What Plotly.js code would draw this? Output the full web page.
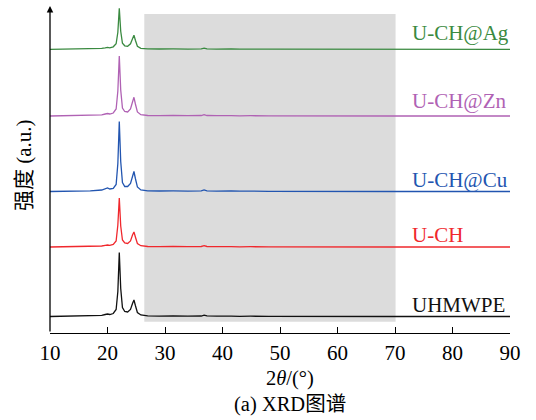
<!DOCTYPE html>
<html><head><meta charset="utf-8">
<script src="https://cdn.plot.ly/plotly-3.0.1.min.js"></script>
<style>html,body{margin:0;padding:0;background:#fff}#c{width:536px;height:420px}</style>
</head><body><div id="c"></div>
<script>
var twoTheta = [10,14,17,19,19.6,20.0,20.4,21.0,21.5,21.8,22.05,22.3,22.6,23.0,23.5,24.0,24.35,24.6,24.85,25.2,25.8,27,29,30.4,30.9,31.4,34,36.3,36.8,37.3,39,40.7,41.1,41.5,43,44.1,44.5,44.9,48,52,56,60,65,70,75,80,85,90];
var uhmwpe = [16.5,16.7,17,17.7,18.5,19,18.5,19.5,23.5,41.5,80.5,44.5,25.5,21.5,21,23.5,29.5,33,27.5,20.5,18,17.1,16.9,17,17.6,17,16.8,17,17.9,17.1,16.8,16.9,17.5,16.9,16.7,16.8,17.2,16.8,16.6,16.7,16.6,16.6,16.5,16.5,16.5,16.5,16.5,16.5];
var uch = [86,86.2,86.5,87,87.6,88,87.6,88.5,92,108,135,107,93,90,89.5,92,98,101,96,89.5,87.3,86.5,86.4,86.5,87.1,86.5,86.3,86.5,87.3,86.5,86.3,86.4,86.9,86.4,86.2,86.3,86.7,86.3,86.1,86.2,86.1,86.1,86,86,86,86,86,86];
var uchCu = [141.5,141.8,142.1,143,144,145,144,144.5,148.5,169.5,211.5,171.5,150.5,146.5,146.5,149.5,156.5,161.5,154.5,146,143,142.1,142,142.1,142.7,142.1,141.9,142.1,143,142.1,141.9,142,142.6,142,141.8,141.9,142.4,141.9,141.7,141.8,141.7,141.6,141.6,141.5,141.5,141.5,141.5,141.5];
var uchZn = [217,217.2,217.5,218.2,219,219.5,219,220,224,242,277,243,225,221.5,221,224,231,235.7,229,221,218.3,217.5,217.4,217.5,218.1,217.5,217.3,217.5,218.4,217.5,217.3,217.4,218,217.4,217.2,217.3,217.8,217.3,217.1,217.2,217.1,217.1,217,217,217,217,217,217];
var uchAg = [283.7,283.9,284.1,284.7,285.2,285.7,285.2,286.2,289.2,300.7,324.7,301.7,289.7,287.2,286.7,289.2,294.2,297.7,292.7,286.7,284.7,284.1,284,284.1,284.7,284.1,283.9,284.1,284.9,284.1,283.9,284,284.6,284,283.8,283.9,284.4,283.9,283.8,283.8,283.8,283.7,283.7,283.7,283.7,283.7,283.7,283.7];
var seriesNames = ["UHMWPE","U-CH","U-CH@Cu","U-CH@Zn","U-CH@Ag"];
var seriesData = [uhmwpe, uch, uchCu, uchZn, uchAg];
var seriesColors = ["#111111","#f0282d","#2255b0","#b062b4","#3a8a40"];
var labelY = [28, 98, 153, 232, 300];
var xTicks = [10,20,30,40,50,60,70,80,90];
var shadeRange = [26.4, 70.1];

var serif = "Liberation Serif, Noto Sans CJK SC, serif";
var traces = seriesData.map(function(d,i){
  return {x: twoTheta, y: d, type:'scatter', mode:'lines', name: seriesNames[i],
    line:{color: seriesColors[i], width:1.3}, showlegend:false, hoverinfo:'skip'};
});
var annotations = seriesNames.map(function(n,i){
  return {x:72.6, y:labelY[i], xref:'x', yref:'y', xanchor:'left', yanchor:'middle',
    text:n, showarrow:false, font:{family:serif, size:21, color:seriesColors[i]}};
});
annotations.push({x:10, y:327, ax:10, ay:0, xref:'x', yref:'y', axref:'x', ayref:'y',
  text:'', showarrow:true, arrowhead:2, arrowsize:1, arrowwidth:1.3, arrowcolor:'#000'});
annotations.push({x:0.522, y:-0.140, xref:'paper', yref:'paper', xanchor:'center', yanchor:'middle',
  text:'2<i>θ</i>/(°)', showarrow:false, font:{family:serif, size:20.5, color:'#000'}});
annotations.push({x:0.522, y:-0.2165, xref:'paper', yref:'paper', xanchor:'center', yanchor:'middle',
  text:'(a) XRD图谱', showarrow:false, font:{family:serif, size:20.5, color:'#000'}});
annotations.push({x:-0.0565, y:0.512, xref:'paper', yref:'paper', xanchor:'center', yanchor:'middle',
  text:'强度 (a.u.)', textangle:-90, showarrow:false, font:{family:serif, size:21, color:'#000'}});

var layout = {
  width:536, height:420,
  margin:{l:50, r:26, t:5, b:87},
  paper_bgcolor:'#fff', plot_bgcolor:'#fff',
  xaxis:{range:[10,90], tickvals:xTicks, ticks:'inside', ticklen:6, tickwidth:1, tickcolor:'#000',
    showline:true, linecolor:'#000', linewidth:1.3, showgrid:false, zeroline:false,
    tickfont:{family:serif, size:21, color:'#000'}},
  yaxis:{range:[0,328], showticklabels:false, ticks:'', showline:false, showgrid:false, zeroline:false},
  shapes:[{type:'rect', xref:'x', yref:'y', x0:shadeRange[0], x1:shadeRange[1], y0:11.3, y1:319,
    fillcolor:'#dcdcdc', line:{width:0}, layer:'below'}],
  annotations: annotations
};
Plotly.newPlot('c', traces, layout, {staticPlot:true, displayModeBar:false});
</script></body></html>
